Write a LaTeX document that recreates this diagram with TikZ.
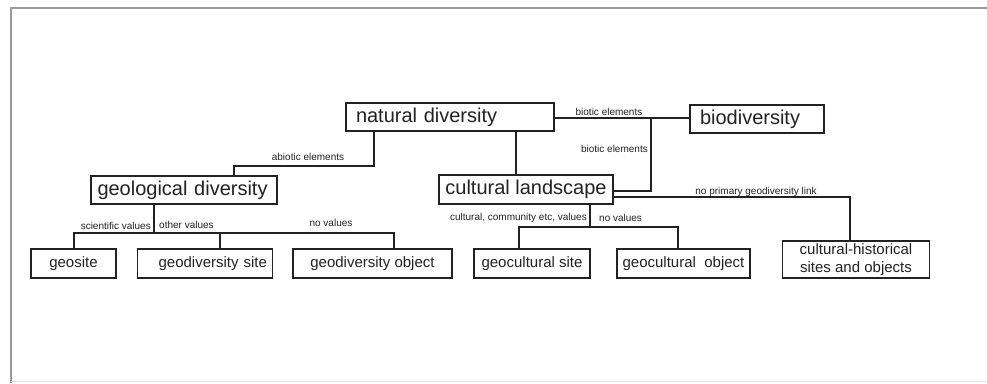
\documentclass[tikz,border=0pt]{standalone}
\usepackage{fontspec}
\setmainfont{Liberation Sans}
\definecolor{ink}{HTML}{222222}
\definecolor{frame}{HTML}{999999}
\tikzset{
  bigbox/.style={draw=ink, line width=1.4pt, text=ink, font=\fontsize{20}{22}\selectfont, inner sep=0pt},
  smallbox/.style={draw=ink, line width=1.4pt, text=ink, font=\fontsize{15}{17}\selectfont, inner sep=0pt, align=center},
  lbl/.style={text=ink, font=\fontsize{10}{11}\selectfont, inner sep=0pt},
  link/.style={draw=ink, line width=1.4pt}
}
\begin{document}
\begin{tikzpicture}[x=1pt,y=-1pt]
\useasboundingbox (0,0) rectangle (987,383);
\fill[white] (0,0) rectangle (987,383);
\draw[frame, line width=1.2pt] (11,383) -- (11,8) -- (987,8);
\draw[black!12, line width=1pt] (11,381) -- (987,381);

% boxes
\node[bigbox, minimum width=208pt, minimum height=28pt, text width=188pt, align=left] (nd) at (450,117) {natural diversity};
\node[bigbox, minimum width=134pt, minimum height=28pt, text width=114pt, align=left] (bd) at (757,119) {biodiversity};
\node[bigbox, minimum width=186pt, minimum height=28pt, text width=173pt, align=left] (gd) at (184,190) {geological diversity};
\node[bigbox, minimum width=174pt, minimum height=29pt] (cl) at (526,189.5) {cultural landscape};

\node[smallbox, minimum width=85pt, minimum height=29pt] (gs) at (73.5,263.5) {geosite};
\node[smallbox, minimum width=134.5pt, minimum height=29pt, text width=124pt, align=right] (gds) at (205,263.5) {geodiversity site};
\node[smallbox, minimum width=159pt, minimum height=29pt] (go) at (372.5,263.5) {geodiversity object};
\node[smallbox, minimum width=116pt, minimum height=29pt] (gcs) at (532,263.5) {geocultural site};
\node[smallbox, minimum width=133pt, minimum height=29pt] (gco) at (683.5,263.5) {geocultural\ \ object};
\node[smallbox, minimum width=147.5pt, minimum height=37pt, font=\fontsize{15}{18}\selectfont] (ch) at (856,259.5) {cultural-historical\\sites and objects};

% junction coordinates
\coordinate (a1) at (374,166);
\coordinate (a2) at (234,166);
\coordinate (c1) at (516,150);
\coordinate (b1) at (651,118);
\coordinate (b2) at (651,191);
\coordinate (n1) at (850,197);
\coordinate (g1) at (154,233);
\coordinate (gL) at (74,233);
\coordinate (gM) at (220,233);
\coordinate (gR) at (394,233);
\coordinate (k1) at (590,227);
\coordinate (kL) at (519,227);
\coordinate (kR) at (678,227);

% connectors
\draw[link] (nd.south -| a1) -- (a1) -- (a2) -- (a2 |- gd.north);
\draw[link] (nd.south -| c1) -- (c1 |- cl.north);
\draw[link] (nd.east |- b1) -- (bd.west |- b1);
\draw[link] (b1) -- (b2) -- (cl.east |- b2);
\draw[link] (cl.east |- n1) -- (n1) -- (n1 |- ch.north);
\draw[link] (gd.south -| g1) -- (g1);
\draw[link] (gL |- gs.north) -- (gL) -- (gR) -- (gR |- go.north);
\draw[link] (gM) -- (gM |- gds.north);
\draw[link] (cl.south -| k1) -- (k1);
\draw[link] (kL |- gcs.north) -- (kL) -- (kR) -- (kR |- gco.north);

% labels
\node[lbl] (l1) at (308,157) {abiotic elements};
\node[lbl] (l2) at (609,112) {biotic elements};
\node[lbl, anchor=east] (l3) at (648,149) {biotic elements};
\node[lbl] (l4) at (756,192) {no primary geodiversity link};
\node[lbl, anchor=east] (l5) at (151,226) {scientific values};
\node[lbl, anchor=west] (l6) at (159,225) {other values};
\node[lbl] (l7) at (331,223) {no values};
\node[lbl, anchor=east] (l8) at (587,218) {cultural, community etc, values};
\node[lbl, anchor=west] (l9) at (599,218) {no values};
\end{tikzpicture}
\end{document}
